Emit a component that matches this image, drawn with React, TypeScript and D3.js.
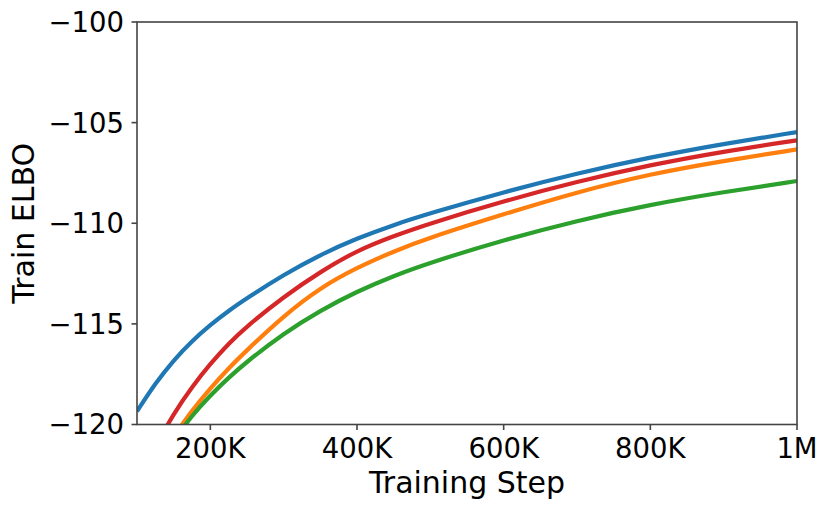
import { useEffect, useRef } from "react";
import * as d3 from "d3";

const W = 831;
const H = 509;
const MARGIN = { top: 22, right: 34, bottom: 84.5, left: 137 };

const blueSteps = [100, 125, 150, 175, 200, 225, 250, 300, 350, 400, 450, 500, 600, 700, 800, 900, 1000];
const blueElbo = [-119.35, -117.95, -116.8, -115.85, -115.05, -114.35, -113.72, -112.56, -111.56, -110.75, -110.08, -109.5, -108.45, -107.52, -106.72, -106.05, -105.47];

const orangeSteps = [150, 175, 200, 225, 250, 300, 350, 400, 450, 500, 600, 700, 800, 900, 1000];
const orangeElbo = [-120.6, -119.3, -118.2, -117.2, -116.3, -114.6, -113.2, -112.2, -111.4, -110.7, -109.55, -108.45, -107.55, -106.9, -106.33];

const greenSteps = [150, 175, 200, 225, 250, 300, 350, 400, 450, 500, 600, 700, 800, 900, 1000];
const greenElbo = [-120.8, -119.55, -118.55, -117.67, -116.87, -115.47, -114.33, -113.39, -112.61, -111.95, -110.83, -109.87, -109.07, -108.45, -107.9];

const redSteps = [125, 150, 175, 200, 225, 250, 300, 350, 400, 450, 500, 600, 700, 800, 900, 1000];
const redElbo = [-121.1, -119.45, -118.13, -116.98, -115.98, -115.11, -113.65, -112.41, -111.35, -110.63, -110.0, -108.9, -107.93, -107.1, -106.43, -105.88];

const xTicks = [200, 400, 600, 800, 1000];
const xTickLabels = ["200K", "400K", "600K", "800K", "1M"];
const yTicks = [-120, -115, -110, -105, -100];

const SERIES = [
  { steps: blueSteps, values: blueElbo, color: "#1f77b4" },
  { steps: orangeSteps, values: orangeElbo, color: "#ff7f0e" },
  { steps: greenSteps, values: greenElbo, color: "#2ca02c" },
  { steps: redSteps, values: redElbo, color: "#d62728" },
];

const FONT = "'DejaVu Sans', sans-serif";

export default function App() {
  const svgRef = useRef<SVGSVGElement>(null);

  useEffect(() => {
    document.body.style.margin = "0";
    if (!svgRef.current) return;
    const svg = d3.select(svgRef.current);
    svg.selectAll("*").remove();

    const innerW = W - MARGIN.left - MARGIN.right;
    const innerH = H - MARGIN.top - MARGIN.bottom;

    const x = d3.scaleLinear().domain([100, 1000]).range([0, innerW]);
    const y = d3.scaleLinear().domain([-120, -100]).range([innerH, 0]);

    svg
      .append("defs")
      .append("clipPath")
      .attr("id", "plot-clip")
      .append("rect")
      .attr("width", innerW)
      .attr("height", innerH);

    const g = svg
      .append("g")
      .attr("transform", `translate(${MARGIN.left},${MARGIN.top})`);

    // Lines (smoothed through the read-off points)
    const lines = g.append("g").attr("clip-path", "url(#plot-clip)");
    const line = d3
      .line<[number, number]>()
      .x((d) => x(d[0]))
      .y((d) => y(d[1]))
      .curve(d3.curveBasis);
    SERIES.forEach((s) => {
      const pts = s.steps.map((st, i) => [st, s.values[i]] as [number, number]);
      lines
        .append("path")
        .attr("d", line(pts))
        .attr("fill", "none")
        .attr("stroke", s.color)
        .attr("stroke-width", 4.2)
        .attr("stroke-linejoin", "round");
    });

    // Spines
    g.append("rect")
      .attr("width", innerW)
      .attr("height", innerH)
      .attr("fill", "none")
      .attr("stroke", "#444")
      .attr("stroke-width", 1.6);

    // X ticks
    xTicks.forEach((t, i) => {
      g.append("line")
        .attr("x1", x(t))
        .attr("x2", x(t))
        .attr("y1", innerH)
        .attr("y2", innerH + 5.5)
        .attr("stroke", "#444")
        .attr("stroke-width", 1.6);
      g.append("text")
        .attr("x", x(t))
        .attr("y", innerH + 33)
        .attr("text-anchor", "middle")
        .attr("font-family", FONT)
        .attr("font-size", 27.5)
        .attr("fill", "#000")
        .text(xTickLabels[i]);
    });

    // Y ticks
    yTicks.forEach((t) => {
      g.append("line")
        .attr("x1", -5.5)
        .attr("x2", 0)
        .attr("y1", y(t))
        .attr("y2", y(t))
        .attr("stroke", "#444")
        .attr("stroke-width", 1.6);
      g.append("text")
        .attr("x", -13)
        .attr("y", y(t))
        .attr("dy", "0.36em")
        .attr("text-anchor", "end")
        .attr("font-family", FONT)
        .attr("font-size", 27.5)
        .attr("fill", "#000")
        .text(`\u2212${Math.abs(t)}`);
    });

    // Axis labels
    svg
      .append("text")
      .attr("x", MARGIN.left + innerW / 2)
      .attr("y", 493)
      .attr("text-anchor", "middle")
      .attr("font-family", FONT)
      .attr("font-size", 30)
      .attr("fill", "#000")
      .text("Training Step");

    svg
      .append("text")
      .attr("transform", `translate(34,${MARGIN.top + innerH / 2}) rotate(-90)`)
      .attr("text-anchor", "middle")
      .attr("font-family", FONT)
      .attr("font-size", 30)
      .attr("fill", "#000")
      .text("Train ELBO");
  }, []);

  return (
    <svg
      ref={svgRef}
      width={W}
      height={H}
      style={{ position: "absolute", left: 0, top: 0, background: "#fff" }}
    />
  );
}
